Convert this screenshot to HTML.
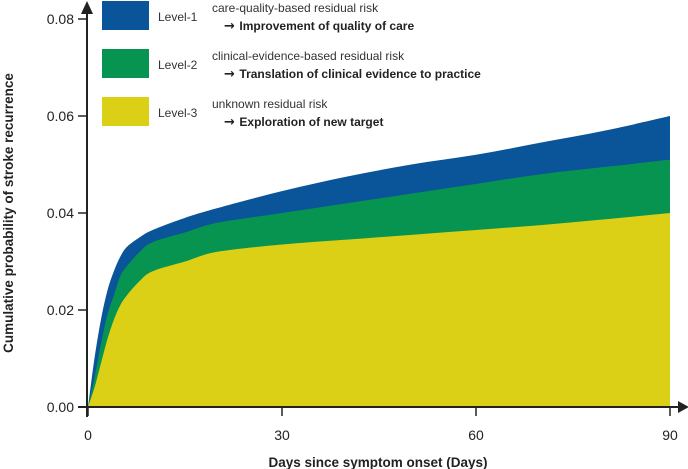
<!DOCTYPE html>
<html><head><meta charset="utf-8"><style>
body{margin:0;background:#fff;}
svg{display:block;font-family:"Liberation Sans",sans-serif;}
</style></head><body>
<svg width="688" height="469" viewBox="0 0 688 469">
<g id="areas"></g>
<g id="axes"></g>
<g id="legend"></g>
<text x="378" y="467" text-anchor="middle" font-size="13.5" font-weight="bold" fill="#222">Days since symptom onset (Days)</text>
<text transform="translate(13,213) rotate(-90)" text-anchor="middle" font-size="13.5" font-weight="bold" fill="#222">Cumulative probability of stroke recurrence</text>
</svg>
<script>
const days=[0,1,2,3,4,5,6,8,10,15,20,30,40,50,60,70,80,90];
const level1=[0,0.010,0.018,0.024,0.028,0.031,0.033,0.035,0.0365,0.039,0.041,0.0445,0.0475,0.050,0.052,0.0545,0.057,0.060];
const level2=[0,0.006,0.013,0.019,0.023,0.027,0.029,0.032,0.034,0.036,0.038,0.040,0.042,0.044,0.046,0.048,0.0495,0.051];
const level3=[0,0.004,0.009,0.014,0.018,0.021,0.023,0.026,0.028,0.030,0.032,0.0335,0.0345,0.0355,0.0365,0.0375,0.0387,0.040];
const xTicks=[0,30,60,90];
const yTicks=[0,0.02,0.04,0.06,0.08];
const yTickLabels=["0.00","0.02","0.04","0.06","0.08"];
const X0=88,X1=670,Y0=407,Y1=19;
const sx=d=>X0+d/90*(X1-X0);
const sy=v=>Y0-v/0.08*(Y0-Y1);
const NS="http://www.w3.org/2000/svg";
function mk(t,a,p){const e=document.createElementNS(NS,t);for(const k in a)e.setAttribute(k,a[k]);p.appendChild(e);return e;}
function areaPath(vals){
  const pts=days.map((d,i)=>[sx(d),sy(vals[i])]);
  let s="M"+pts[0][0]+","+pts[0][1];
  for(let i=0;i<pts.length-1;i++){
    const p0=pts[Math.max(0,i-1)],p1=pts[i],p2=pts[i+1],p3=pts[Math.min(pts.length-1,i+2)];
    const c1=[p1[0]+(p2[0]-p0[0])/6,p1[1]+(p2[1]-p0[1])/6];
    const c2=[p2[0]-(p3[0]-p1[0])/6,p2[1]-(p3[1]-p1[1])/6];
    s+=" C"+c1+" "+c2+" "+p2;
  }
  s+=" L"+sx(90)+","+Y0+" L"+sx(0)+","+Y0+"Z";
  return s;
}
const ag=document.getElementById('areas');
const series=[[level1,'#0a5499','area-level-1'],[level2,'#079350','area-level-2'],[level3,'#dbd015','area-level-3']];
series.forEach(s=>{
  const p=mk('path',{d:areaPath(s[0]),fill:s[1]},ag);
  
  
});
const ax=document.getElementById('axes');
let l=mk('line',{x1:X0-1,y1:Y0+10,x2:X0-1,y2:12,stroke:'#222','stroke-width':2},ax);


mk('polygon',{points:`${X0-7},14 ${X0+5},14 ${X0-1},1`,fill:'#222'},ax);
l=mk('line',{x1:X0-10,y1:Y0,x2:680,y2:Y0,stroke:'#222','stroke-width':2},ax);


mk('polygon',{points:`678,${Y0-6} 678,${Y0+6} 689,${Y0}`,fill:'#222'},ax);
xTicks.forEach(t=>{
  mk('line',{x1:sx(t),y1:Y0,x2:sx(t),y2:Y0+9,stroke:'#222','stroke-width':1.5},ax);
  const tx=mk('text',{x:sx(t),y:Y0+33,'text-anchor':'middle','font-size':14,fill:'#222'},ax);
  tx.textContent=t;
  
  
});
yTicks.forEach((t,i)=>{
  mk('line',{x1:X0-10,y1:sy(t),x2:X0,y2:sy(t),stroke:'#222','stroke-width':1.5},ax);
  const tx=mk('text',{x:X0-14,y:sy(t)+5,'text-anchor':'end','font-size':14,fill:'#222'},ax);
  tx.textContent=yTickLabels[i];
  
  
});
const lg=document.getElementById('legend');
const leg=[['#0a5499','Level-1','care-quality-based residual risk','Improvement of quality of care'],
['#079350','Level-2','clinical-evidence-based residual risk','Translation of clinical evidence to practice'],
['#dbd015','Level-3','unknown residual risk','Exploration of new target']];
leg.forEach((e,i)=>{
  const y=1+i*48;
  const g=mk('g',{},lg);
  
  
  mk('rect',{x:102,y:y,width:47,height:29,fill:e[0]},g);
  mk('text',{x:158,y:y+20,'font-size':12,fill:'#333'},g).textContent=e[1];
  mk('text',{x:212,y:y+11,'font-size':12,fill:'#333'},g).textContent=e[2];
  const t=mk('text',{x:224,y:y+29,'font-size':12,'font-weight':'bold',fill:'#222'},g);
  const a=mk('tspan',{'font-family':'DejaVu Sans','font-size':13},t);
  a.textContent='→ ';
  const b=mk('tspan',{},t);
  b.textContent=e[3];
});
</script>
</body></html>
